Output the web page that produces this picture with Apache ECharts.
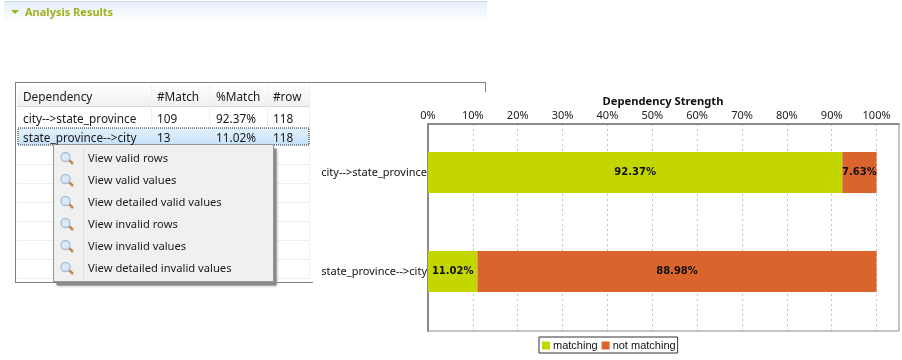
<!DOCTYPE html>
<html>
<head>
<meta charset="utf-8">
<style>
  html, body { margin: 0; background: #fff; }
  #chart { width: 902px; height: 360px; }
</style>
<script src="https://cdn.jsdelivr.net/npm/echarts@6/dist/echarts.min.js"></script>
</head>
<body>
<div id="chart"></div>
<script>
const categories = ['city-->state_province', 'state_province-->city']
const matching = [92.37, 11.02]
const notMatching = [7.63, 88.98]

const tableHeader = ['Dependency', '#Match', '%Match', '#row']
const tableRows = [
  ['city-->state_province', '109', '92.37%', '118'],
  ['state_province-->city', '13', '11.02%', '118']
]
const menuItems = [
  'View valid rows',
  'View valid values',
  'View detailed valid values',
  'View invalid rows',
  'View invalid values',
  'View detailed invalid values'
]

const uiFont = '"Noto Sans", sans-serif'
const colX = [23, 157, 216, 273]
const colLines = [151, 209, 267, 309]
const rowY = [120, 139]
const emptyLines = [164, 183, 202, 221, 240, 259, 278]
const menuY = [159, 181, 203, 225, 247, 269]

function text(x, y, str, extra) {
  return {
    type: 'text',
    x: x,
    y: y,
    z: 5,
    style: Object.assign({
      text: str,
      fill: '#1a1a1a',
      font: '11.8px ' + uiFont,
      verticalAlign: 'middle'
    }, extra)
  }
}
function rect(x, y, w, h, style, z) {
  return { type: 'rect', z: z || 1, shape: { x: x, y: y, width: w, height: h }, style: style }
}
function line(x1, y1, x2, y2, stroke, extra, z) {
  return {
    type: 'line',
    z: z || 2,
    shape: { x1: x1, y1: y1, x2: x2, y2: y2 },
    style: Object.assign({ stroke: stroke, lineWidth: 1 }, extra)
  }
}

function buildGraphics() {
  const g = []

  // section header
  g.push(rect(4, 1, 483, 21, {
    fill: new echarts.graphic.LinearGradient(0, 0, 0, 1, [
      { offset: 0, color: '#e3eefa' },
      { offset: 1, color: '#ffffff' }
    ])
  }))
  g.push(line(5, 1.5, 487, 1.5, '#c5dbf0'))
  g.push({
    type: 'polygon',
    z: 3,
    shape: { points: [[11, 10], [19, 10], [15, 14]] },
    style: { fill: '#9fae14' }
  })
  g.push(text(25, 13, 'Analysis Results', { fill: '#a2b21c', font: 'bold 11px ' + uiFont }))

  // table frame
  g.push(line(15.5, 82.5, 485.5, 82.5, '#808080'))
  g.push(line(485.5, 82, 485.5, 92, '#808080'))
  g.push(line(15.5, 82, 15.5, 283, '#808080'))
  g.push(line(15, 282.5, 313, 282.5, '#808080'))

  g.push(rect(17, 84, 293, 22, {
    fill: new echarts.graphic.LinearGradient(0, 0, 0, 1, [
      { offset: 0, color: '#ffffff' },
      { offset: 1, color: '#f0f0f0' }
    ])
  }))
  g.push(line(17, 106.5, 310, 106.5, '#d8d8d8'))
  colLines.forEach(x => {
    g.push(line(x + 0.5, 84, x + 0.5, 282, '#eef1f5'))
  })
  emptyLines.forEach(y => {
    g.push(line(17, y + 0.5, 310, y + 0.5, '#eeeeee'))
  })

  // selected row
  g.push(rect(18, 128, 291, 17, {
    fill: new echarts.graphic.LinearGradient(0, 0, 0, 1, [
      { offset: 0, color: '#e4f1fc' },
      { offset: 1, color: '#c6e0f8' }
    ]),
    stroke: '#222222',
    lineWidth: 1,
    lineDash: [1, 1]
  }, 2))

  tableHeader.forEach((h, i) => {
    g.push(text(colX[i], 98, h))
  })
  tableRows.forEach((row, r) => {
    row.forEach((v, i) => {
      g.push(text(colX[i], rowY[r], v))
    })
  })

  // context menu
  g.push(rect(56.5, 148.5, 220, 137, { fill: '#8a8a8a', shadowBlur: 3, shadowColor: '#8a8a8a' }, 3))
  g.push(rect(53.5, 144.5, 220, 137, { fill: '#f0f0f0', stroke: '#979797', lineWidth: 1 }, 4))
  g.push(line(83.5, 147, 83.5, 279, '#e0e0e0', {}, 5))
  menuItems.forEach((m, i) => {
    const y = menuY[i]
    g.push(text(88, y, m, { font: '11.2px ' + uiFont }))
    g.push(line(69, y + 1, 73, y + 5, '#c08a50', { lineWidth: 2.5 }, 5))
    g.push({
      type: 'circle',
      z: 6,
      shape: { cx: 65.5, cy: y - 2, r: 4.5 },
      style: { fill: '#dbe9f6', stroke: '#a5bfd8', lineWidth: 1.3 }
    })
  })

  return g
}

const chart = echarts.init(document.getElementById('chart'))

chart.setOption({
  animation: false,
  textStyle: { fontFamily: uiFont },
  title: {
    text: 'Dependency Strength',
    left: 658,
    top: 91,
    textAlign: 'center',
    textStyle: { fontFamily: uiFont, fontSize: 11.2, fontWeight: 'bold', color: '#111' }
  },
  legend: {
    data: ['matching', 'not matching'],
    left: 539,
    top: 337,
    orient: 'horizontal',
    backgroundColor: '#fff',
    borderColor: '#333',
    borderWidth: 1,
    padding: [3, 2, 2, 3],
    itemWidth: 8,
    itemHeight: 8,
    itemGap: 4,
    icon: 'rect',
    textStyle: { fontSize: 11, color: '#111', fontFamily: 'Liberation Sans', padding: [0, 0, 0, -2] }
  },
  grid: [
    // frame and gridlines
    { left: 428, top: 124, width: 471, height: 207, show: true, borderColor: '#8a8a8a', borderWidth: 1 },
    // bars
    { left: 428, top: 123, width: 471, height: 198 }
  ],
  xAxis: [
    {
      gridIndex: 0,
      type: 'value',
      position: 'top',
      min: 0,
      max: 105,
      interval: 10,
      axisLine: { show: true, lineStyle: { color: '#8a8a8a', width: 2 } },
      axisTick: { show: false },
      axisLabel: {
        formatter: '{value}%',
        showMaxLabel: false,
        margin: 3,
        fontSize: 11,
        color: '#222'
      },
      splitLine: { show: true, lineStyle: { type: [2, 3], color: '#c4c4c4' } }
    },
    {
      gridIndex: 1,
      type: 'value',
      min: 0,
      max: 105,
      show: false
    }
  ],
  yAxis: [
    {
      gridIndex: 0,
      type: 'category',
      data: [''],
      axisLine: { show: true, lineStyle: { color: '#8a8a8a', width: 2 } },
      axisTick: { show: false },
      axisLabel: { show: false }
    },
    {
      gridIndex: 1,
      type: 'category',
      inverse: true,
      data: categories,
      axisLine: { show: false },
      axisTick: { show: false },
      axisLabel: { margin: 1, fontSize: 11, color: '#111' }
    }
  ],
  series: [
    {
      name: 'matching',
      type: 'bar',
      stack: 'total',
      xAxisIndex: 1,
      yAxisIndex: 1,
      barWidth: 41,
      data: matching,
      itemStyle: { color: '#c4d600' },
      label: {
        show: true,
        position: 'inside',
        formatter: p => p.value.toFixed(2) + '%',
        fontFamily: 'DejaVu Sans',
        fontWeight: 'bold',
        fontSize: 10,
        color: '#111'
      }
    },
    {
      name: 'not matching',
      type: 'bar',
      stack: 'total',
      xAxisIndex: 1,
      yAxisIndex: 1,
      barWidth: 41,
      data: notMatching,
      itemStyle: { color: '#da652c' },
      label: {
        show: true,
        position: 'inside',
        formatter: p => p.value.toFixed(2) + '%',
        fontFamily: 'DejaVu Sans',
        fontWeight: 'bold',
        fontSize: 10,
        color: '#111'
      }
    }
  ],
  graphic: buildGraphics()
})
</script>
</body>
</html>
